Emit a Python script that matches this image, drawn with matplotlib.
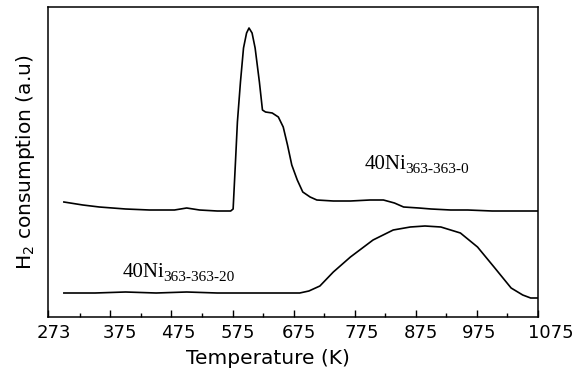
import matplotlib
matplotlib.use("Agg")
import matplotlib.pyplot as plt
from matplotlib.ticker import FixedLocator
from matplotlib.transforms import ScaledTranslation

# Upper curve: 40Ni363-363-0
T_upper = [299, 330, 357, 400, 439, 480, 500, 521, 550, 572, 576, 580, 583, 588, 593, 598, 602,
           607, 612, 619, 624, 629, 640, 650, 658, 665, 672, 681, 690, 702, 713, 740, 768, 800,
           822, 840, 855, 880, 900, 932, 960, 1000, 1040, 1075]
H_upper = [115, 112, 110, 108, 107, 107, 109, 107, 106, 106, 108, 157, 195, 235, 269, 284, 289,
           284, 269, 235, 207, 205, 204, 200, 190, 172, 152, 137, 125, 120, 117, 116, 116, 117,
           117, 114, 110, 109, 108, 107, 107, 106, 106, 106]

# Lower curve: 40Ni363-363-20
T_lower = [299, 350, 400, 450, 500, 550, 600, 650, 685, 700, 718, 740, 768, 805, 838,
           866, 890, 916, 948, 976, 1003, 1031, 1050, 1063, 1075]
H_lower = [24, 24, 25, 24, 25, 24, 24, 24, 24, 26, 31, 45, 60, 77, 87,
           90, 91, 90, 84, 70, 50, 29, 22, 19, 19]

xticks = [273, 375, 475, 575, 675, 775, 875, 975, 1075]
minor_ticks = [325, 425, 525, 625, 725, 825, 925, 1025]
label_shift_px = [6, 10, 7, 5, 5, 7, 5, 2, 13]

fig = plt.figure(figsize=(5.74, 3.78), dpi=100)
ax = fig.add_axes([48/574, 1-317/378, (538-48)/574, (317-7)/378])

ax.plot(T_upper, H_upper, color='black', lw=1.2)
ax.plot(T_lower, H_lower, color='black', lw=1.2)

ax.set_xlim(273, 1075)
ax.set_ylim(0, 310)
ax.xaxis.set_major_locator(FixedLocator(xticks))
ax.xaxis.set_minor_locator(FixedLocator(minor_ticks))
ax.set_xticklabels([str(t) for t in xticks], fontsize=13, family='DejaVu Sans')
ax.tick_params(axis='x', which='major', direction='in', length=5, width=1, pad=5)
ax.tick_params(axis='x', which='minor', direction='in', length=3, width=1)
ax.set_yticks([])
for s in ax.spines.values():
    s.set_linewidth(1.1)

for lab, dx in zip(ax.get_xticklabels(), label_shift_px):
    lab.set_transform(lab.get_transform() + ScaledTranslation(dx / 100, 0, fig.dpi_scale_trans))

ax.set_xlabel('Temperature (K)', fontsize=14.5, family='DejaVu Sans')
ax.xaxis.set_label_coords(0.448, -0.103)
ax.set_ylabel('H$_2$ consumption (a.u)', fontsize=14.5, family='DejaVu Sans', labelpad=8)

def label(x, y, main, sub):
    t = ax.text(x, y, main, fontsize=15, family='Liberation Serif',
                transform=ax.transData, va='baseline')
    fig.canvas.draw()
    bb = t.get_window_extent()
    fig.text((bb.x1 - 1.5) / fig.dpi / fig.get_figwidth(), (bb.y0 + 1) / fig.dpi / fig.get_figheight(),
             sub, fontsize=11, family='Liberation Serif', va='baseline')

label(792, 148, '40Ni', '363-363-0')
label(395, 40, '40Ni', '363-363-20')

fig.savefig('out.png', dpi=100)
